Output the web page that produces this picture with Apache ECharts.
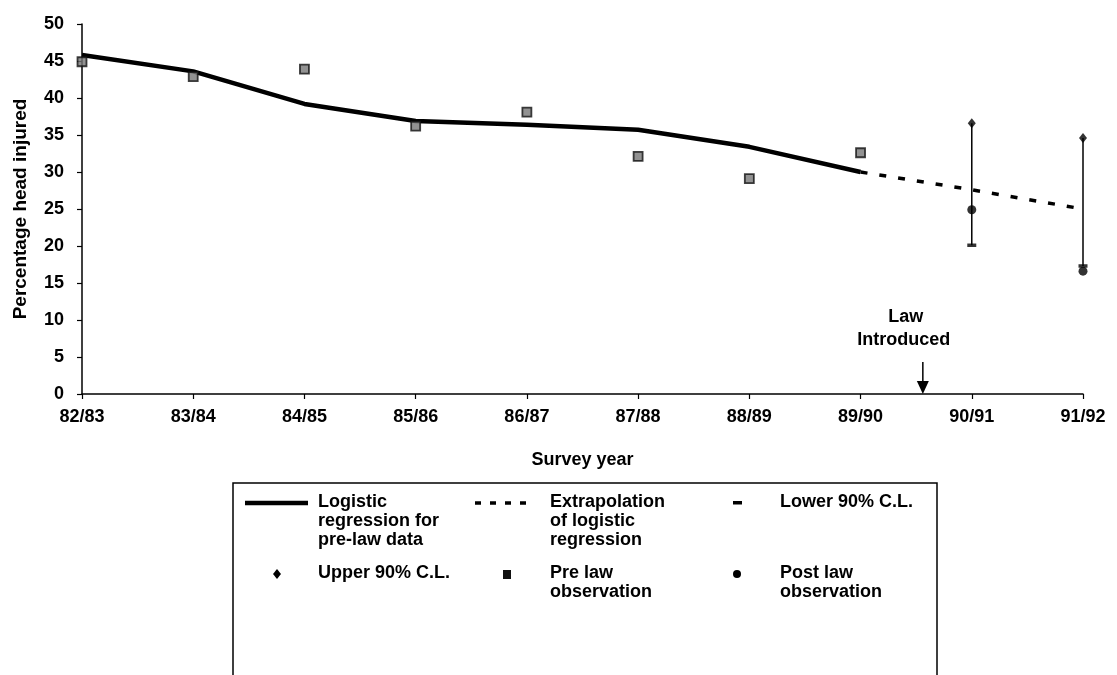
<!DOCTYPE html>
<html>
<head>
<meta charset="utf-8">
<script src="https://cdn.jsdelivr.net/npm/echarts@6/dist/echarts.min.js"></script>
<style>
html,body{margin:0;padding:0;background:#fff;}
#chart{width:1117px;height:675px;}
</style>
</head>
<body>
<div id="chart"></div>
<script>
// ---- data ----
const categories = ['82/83','83/84','84/85','85/86','86/87','87/88','88/89','89/90','90/91','91/92'];
const regression    = [45.8, 43.6, 39.2, 36.9, 36.4, 35.7, 33.4, 30.0, null, null];
const extrapolation = [null, null, null, null, null, null, null, 30.0, 27.6, 25.0];
const preLawObs     = [44.9, 42.9, 43.9, 36.2, 38.1, 32.1, 29.1, 32.6, null, null];
const upperCL       = [null, null, null, null, null, null, null, null, 36.6, 34.6];
const lowerCL       = [null, null, null, null, null, null, null, null, 20.1, 17.3];
const postLawObs    = [null, null, null, null, null, null, null, null, 24.9, 16.6];
const yMin = 0, yMax = 50, yStep = 5;
const lawPosition = 7.56; // between 89/90 and 90/91
const lawLabel = ['Law', 'Introduced'];
const legendLabels = [
  ['Logistic\nregression for\npre-law data', 'Extrapolation\nof logistic\nregression', 'Lower 90% C.L.'],
  ['Upper 90% C.L.', 'Pre law\nobservation', 'Post law\nobservation']
];

const errorBars = [];
categories.forEach((c, i) => {
  if (lowerCL[i] != null && upperCL[i] != null) errorBars.push([i, lowerCL[i], upperCL[i]]);
});

const FONT = '"Liberation Sans", Arial, sans-serif';
const chart = echarts.init(document.getElementById('chart'));

const option = {
  backgroundColor: '#fff',
  animation: false,
  grid: { left: 82, right: 34, top: 24, bottom: 281, containLabel: false },
  xAxis: {
    type: 'category',
    data: categories,
    boundaryGap: false,
    name: 'Survey year',
    nameLocation: 'middle',
    nameGap: 57,
    nameTextStyle: { fontFamily: FONT, fontWeight: 'bold', fontSize: 18, color: '#000' },
    axisLine: { lineStyle: { color: '#000', width: 1.5 } },
    axisTick: { show: true, length: 5, lineStyle: { color: '#000', width: 1.2 } },
    axisLabel: { margin: 14, fontFamily: FONT, fontWeight: 'bold', fontSize: 18, color: '#000' },
    splitLine: { show: false }
  },
  yAxis: {
    type: 'value',
    min: yMin, max: yMax, interval: yStep,
    name: 'Percentage head injured',
    nameLocation: 'middle',
    nameGap: 52,
    nameTextStyle: { fontFamily: FONT, fontWeight: 'bold', fontSize: 19, color: '#000' },
    axisLine: { show: true, lineStyle: { color: '#000', width: 1.5 } },
    axisTick: { show: true, length: 5, lineStyle: { color: '#000', width: 1.2 } },
    axisLabel: { margin: 18, fontFamily: FONT, fontWeight: 'bold', fontSize: 18, color: '#000' },
    splitLine: { show: false }
  },
  series: [
    {
      name: 'Logistic regression for pre-law data',
      type: 'line', data: regression, symbol: 'none', z: 3,
      lineStyle: { color: '#000', width: 4.5 }
    },
    {
      name: 'Extrapolation of logistic regression',
      type: 'line', data: extrapolation, symbol: 'none', z: 3,
      lineStyle: { color: '#000', width: 3.5, type: [7, 12] }
    },
    {
      name: 'Error bars',
      type: 'custom', data: errorBars, z: 2,
      renderItem: function (params, api) {
        const p1 = api.coord([api.value(0), api.value(1)]);
        const p2 = api.coord([api.value(0), api.value(2)]);
        return { type: 'line', shape: { x1: p1[0], y1: p1[1], x2: p2[0], y2: p2[1] },
                 style: { stroke: '#000', lineWidth: 1.5 } };
      }
    },
    {
      name: 'Pre law observation',
      type: 'scatter', data: preLawObs, symbol: 'rect', symbolSize: 9, z: 4,
      itemStyle: { color: '#777', borderColor: '#111', borderWidth: 1.8 }
    },
    {
      name: 'Upper 90% C.L.',
      type: 'scatter', data: upperCL, symbol: 'diamond', symbolSize: [8, 10], z: 4,
      itemStyle: { color: '#000' }
    },
    {
      name: 'Lower 90% C.L.',
      type: 'scatter', data: lowerCL, symbol: 'rect', symbolSize: [9, 3.5], z: 4,
      itemStyle: { color: '#000' }
    },
    {
      name: 'Post law observation',
      type: 'scatter', data: postLawObs, symbol: 'circle', symbolSize: 9, z: 4,
      itemStyle: { color: '#000' }
    }
  ]
};
chart.setOption(option);

// ---- annotation and legend (graphic) ----
const p7 = chart.convertToPixel({ xAxisIndex: 0 }, Math.floor(lawPosition));
const p8 = chart.convertToPixel({ xAxisIndex: 0 }, Math.floor(lawPosition) + 1);
const lawX = p7 + (p8 - p7) * (lawPosition - Math.floor(lawPosition));
const axisY = chart.convertToPixel({ yAxisIndex: 0 }, 0);

const txt = (x, y, text, align) => ({
  type: 'text', x: x, y: y,
  style: { text: text, fill: '#000', font: 'bold 18px ' + FONT, lineHeight: 19,
           align: align || 'left', verticalAlign: 'top' }
});

const graphics = [
  // Law introduced
  { type: 'text', x: lawX - 17, y: 308,
    style: { text: lawLabel[0], fill: '#000', font: 'bold 18px ' + FONT, align: 'center', verticalAlign: 'top' } },
  { type: 'text', x: lawX - 19, y: 331,
    style: { text: lawLabel[1], fill: '#000', font: 'bold 18px ' + FONT, align: 'center', verticalAlign: 'top' } },
  { type: 'line', shape: { x1: lawX, y1: 362, x2: lawX, y2: axisY - 12 }, style: { stroke: '#000', lineWidth: 1.5 } },
  { type: 'polygon', shape: { points: [[lawX - 6, axisY - 13], [lawX + 6, axisY - 13], [lawX, axisY]] }, style: { fill: '#000' } },

  // Legend box
  { type: 'rect', shape: { x: 233, y: 483, width: 704, height: 220 }, style: { fill: 'none', stroke: '#000', lineWidth: 1.5 } },
  // row 1 symbols
  { type: 'line', shape: { x1: 245, y1: 503, x2: 308, y2: 503 }, style: { stroke: '#000', lineWidth: 4.5 } },
  { type: 'line', shape: { x1: 475, y1: 503, x2: 529, y2: 503 }, style: { stroke: '#000', lineWidth: 3.5, lineDash: [6, 9] } },
  { type: 'rect', shape: { x: 733, y: 501, width: 9, height: 3.5 }, style: { fill: '#000' } },
  // row 2 symbols
  { type: 'polygon', shape: { points: [[277, 569], [281, 574], [277, 579], [273, 574]] }, style: { fill: '#000' } },
  { type: 'rect', shape: { x: 503, y: 570, width: 8, height: 9 }, style: { fill: '#111' } },
  { type: 'circle', shape: { cx: 737, cy: 574, r: 4 }, style: { fill: '#000' } },
  // legend texts
  txt(318, 493, legendLabels[0][0]),
  txt(550, 493, legendLabels[0][1]),
  txt(780, 493, legendLabels[0][2]),
  txt(318, 564, legendLabels[1][0]),
  txt(550, 564, legendLabels[1][1]),
  txt(780, 564, legendLabels[1][2])
];
chart.setOption({ graphic: { elements: graphics } });
</script>
</body>
</html>
